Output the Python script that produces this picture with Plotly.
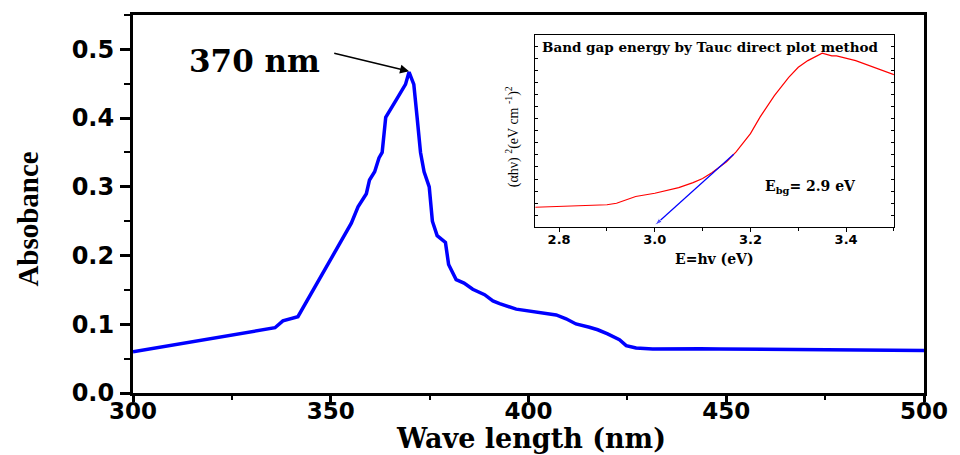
import plotly.graph_objects as go

# Main absorbance spectrum
wavelength = [300, 335.9, 337.9, 341.7, 355.2, 356.9, 359.0, 359.8, 361.1, 362.2, 363.0,
              363.9, 366.6, 368.9, 369.8, 371.0, 371.8, 372.7, 373.6, 374.9, 375.7, 376.9,
              379.0, 379.8, 381.7, 383.7, 385.9, 387.6, 388.9, 391.0, 392.7, 396.9, 401.1,
              407.0, 409.5, 412.0, 415.4, 417.5, 420.0, 423.0, 424.7, 427.2, 431.4, 441.5,
              442.5, 443.5, 448.2, 500]
absorbance = [0.060, 0.095, 0.105, 0.111, 0.247, 0.271, 0.290, 0.310, 0.322, 0.342, 0.350,
              0.401, 0.427, 0.449, 0.467, 0.449, 0.403, 0.350, 0.322, 0.300, 0.250, 0.229,
              0.219, 0.187, 0.165, 0.160, 0.151, 0.146, 0.143, 0.134, 0.130, 0.122, 0.118,
              0.1135, 0.108, 0.1005, 0.0957, 0.092, 0.086, 0.0775, 0.069, 0.0654, 0.064, 0.0645,
              0.0655, 0.0645, 0.064, 0.062]

# Inset Tauc plot (arbitrary units on y)
energy = [2.75, 2.90, 2.92, 2.93, 2.96, 3.00, 3.05, 3.08, 3.10, 3.12, 3.15, 3.17, 3.20,
          3.22, 3.25, 3.28, 3.30, 3.32, 3.35, 3.37, 3.38, 3.42, 3.46, 3.50]
tauc = [0.103, 0.116, 0.124, 0.133, 0.159, 0.176, 0.205, 0.231, 0.253, 0.284, 0.340, 0.391,
        0.486, 0.572, 0.684, 0.779, 0.831, 0.866, 0.905, 0.891, 0.891, 0.866, 0.831, 0.793]

# Tangent (linear fit) line
tangent_x = [3.165, 3.0]
tangent_y = [0.379, 0.009]

peak_wl, peak_abs = 369.8, 0.467
peak_label = "370 nm"

fig = go.Figure()

fig.add_trace(go.Scatter(x=wavelength, y=absorbance, mode="lines",
                         line=dict(color="#0000FF", width=3.5), showlegend=False,
                         xaxis="x", yaxis="y"))

fig.add_trace(go.Scatter(x=energy, y=tauc, mode="lines",
                         line=dict(color="#FF0000", width=1.2), showlegend=False,
                         xaxis="x2", yaxis="y2"))

fig.add_trace(go.Scatter(x=tangent_x, y=tangent_y, mode="lines+markers",
                         line=dict(color="#0000FF", width=1.2),
                         marker=dict(symbol="arrow", size=[0, 8], angleref="previous",
                                     color="#0000FF"),
                         showlegend=False, xaxis="x2", yaxis="y2"))

tickfont_main = dict(family="DejaVu Sans", size=24, color="black", weight="bold")
tickfont_x = dict(family="DejaVu Sans", size=23, color="black", weight="bold")

fig.update_layout(
    width=960, height=455,
    margin=dict(l=133, r=35, t=12, b=62),
    paper_bgcolor="white", plot_bgcolor="white",
    showlegend=False,
    xaxis=dict(range=[300, 500], tick0=300, dtick=50, showgrid=False, zeroline=False,
               showline=True, linecolor="black", linewidth=3, mirror=True,
               ticks="outside", ticklen=6, tickwidth=3, tickcolor="black",
               minor=dict(dtick=25, ticks="outside", ticklen=4, tickwidth=2, tickcolor="black"),
               tickfont=tickfont_x, ticklabelstandoff=-11, domain=[0, 1]),
    yaxis=dict(range=[0, 0.55], tick0=0, dtick=0.1, tickformat=".1f", showgrid=False,
               zeroline=False, showline=True, linecolor="black", linewidth=3, mirror=True,
               ticks="outside", ticklen=10, tickwidth=3, tickcolor="black",
               minor=dict(dtick=0.05, ticks="outside", ticklen=6, tickwidth=2, tickcolor="black"),
               tickfont=tickfont_main, ticklabelstandoff=1),
    xaxis2=dict(domain=[0.5085, 0.962], anchor="y2", range=[2.75, 3.5], tick0=2.8, dtick=0.2,
                tickformat=".1f", showgrid=False, zeroline=False, showline=True,
                linecolor="black", linewidth=1, mirror=True, ticks="outside", ticklen=4,
                tickcolor="black", minor=dict(dtick=0.1, ticks="outside", ticklen=3,
                                              tickcolor="black"),
                ticklabelstandoff=-4,
                tickfont=dict(family="DejaVu Sans", size=13, color="black", weight="bold")),
    yaxis2=dict(domain=[0.439, 0.9475], anchor="x2", range=[0, 1], dtick=1/16,
                showticklabels=False, showgrid=False, zeroline=False, showline=True,
                linecolor="black", linewidth=1, mirror="ticks", ticks="inside", ticklen=3,
                tickcolor="black"),
)

annotations = [
    dict(text="Absobance", xref="paper", yref="paper", x=-0.1326, y=0.459, showarrow=False,
         textangle=-90, xanchor="center", yanchor="middle",
         font=dict(family="Liberation Serif", size=29, color="black", weight="bold")),
    dict(text="Wave length (nm)", xref="paper", yref="paper", x=0.503, y=-0.121,
         showarrow=False, xanchor="center", yanchor="middle",
         font=dict(family="DejaVu Serif", size=27, color="black", weight="bold")),
    dict(text=peak_label, xref="x", yref="y", x=330.6, y=0.483, showarrow=False,
         xanchor="center", yanchor="middle",
         font=dict(family="DejaVu Serif", size=31, color="black", weight="bold")),
    dict(text="", xref="x", yref="y", x=peak_wl, y=peak_abs + 0.001, axref="x", ayref="y",
         ax=350.5, ay=0.495, showarrow=True, arrowhead=2, arrowsize=1.2, arrowwidth=1.5,
         arrowcolor="black", standoff=0),
    dict(text="Band gap energy by Tauc direct plot method", xref="paper", yref="paper",
         x=0.7304, y=0.916, showarrow=False, xanchor="center", yanchor="middle",
         font=dict(family="DejaVu Serif", size=13.5, color="black", weight="bold")),
    dict(text="E<sub>bg</sub>= 2.9 eV", xref="paper", yref="paper", x=0.857, y=0.546,
         showarrow=False, xanchor="center", yanchor="middle",
         font=dict(family="DejaVu Serif", size=14, color="black", weight="bold")),
    dict(text="E=hv (eV)", xref="paper", yref="paper", x=0.735, y=0.354, showarrow=False,
         xanchor="center", yanchor="middle",
         font=dict(family="DejaVu Serif", size=14, color="black", weight="bold")),
    dict(text="(αhν) <sup>2</sup>(eV cm <sup>-1</sup>)<sup>2</sup>", xref="paper", yref="paper",
         x=0.4798, y=0.678, showarrow=False, textangle=-90, xanchor="center", yanchor="middle",
         font=dict(family="Liberation Serif", size=14, color="black")),
]
fig.update_layout(annotations=annotations)

fig.write_html("out.html")
